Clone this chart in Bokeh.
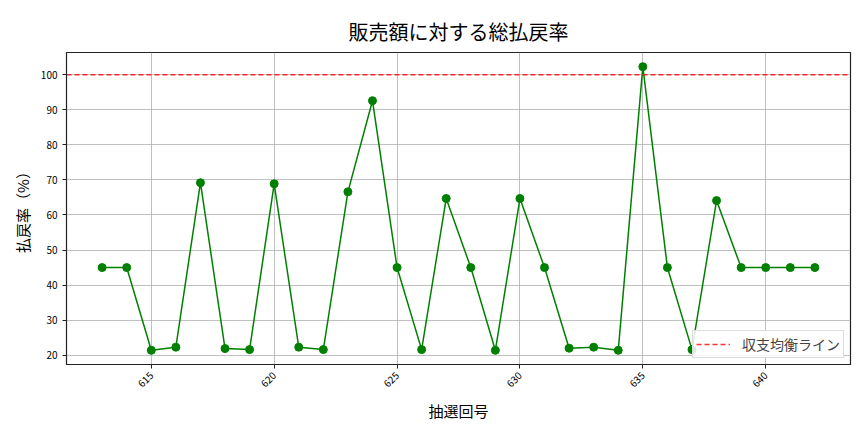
import math
from bokeh.plotting import figure
from bokeh.models import Range1d, FixedTicker, Legend, LegendItem
from bokeh.embed import file_html
from bokeh.resources import INLINE

# data
rounds = list(range(613, 643))
payout_rate = [45.0, 45.0, 21.4, 22.3, 69.2, 21.9, 21.6, 68.9, 22.3, 21.6,
               66.6, 92.6, 45.0, 21.6, 64.7, 45.0, 21.4, 64.7, 45.0, 22.0,
               22.3, 21.4, 102.3, 45.0, 21.6, 64.1, 45.0, 45.0, 45.0, 45.0]
breakeven = 100
x_ticks = [615, 620, 625, 630, 635, 640]
y_ticks = [20, 30, 40, 50, 60, 70, 80, 90, 100]

FONT = "Noto Sans CJK JP"

xmin, xmax = min(rounds), max(rounds)
xpad = (xmax - xmin) * 0.05
ymin, ymax = min(payout_rate), max(payout_rate)
ypad = (ymax - ymin) * 0.05
x_lo, x_hi = xmin - xpad, xmax + xpad

p = figure(width=856, height=424, output_backend="svg", toolbar_location=None,
           x_range=Range1d(x_lo, x_hi),
           y_range=Range1d(ymin - ypad, ymax + ypad),
           min_border_left=66, min_border_right=6, min_border_top=52, min_border_bottom=60)

p.title.text = "販売額に対する総払戻率"
p.title.text_font = FONT
p.title.text_font_size = "20px"
p.title.text_font_style = "normal"
p.title.align = "center"
p.title.vertical_align = "top"
p.title.text_color = "#000000"
p.title.standoff = 10

p.outline_line_color = "#222222"
p.outline_line_width = 1.2

p.xaxis.ticker = FixedTicker(ticks=x_ticks)
p.yaxis.ticker = FixedTicker(ticks=y_ticks)
p.xaxis.major_label_orientation = math.pi / 4
for ax in (p.xaxis, p.yaxis):
    ax.major_label_text_font = FONT
    ax.major_label_text_font_size = "10px"
    ax.major_label_text_color = "#000000"
    ax.axis_label_text_font = FONT
    ax.axis_label_text_font_size = "15px"
    ax.axis_label_text_font_style = "normal"
    ax.axis_label_text_color = "#000000"
    ax.axis_line_color = "#222222"
    ax.major_tick_line_color = "#222222"
    ax.major_tick_out = 4
    ax.major_tick_in = 0
    ax.minor_tick_line_color = None
p.xaxis.axis_label = "抽選回号"
p.xaxis.axis_label_standoff = 6
p.yaxis.axis_label = "払戻率（%）"

p.xgrid.grid_line_color = "#b0b0b0"
p.ygrid.grid_line_color = "#b0b0b0"
p.xgrid.grid_line_width = 0.8
p.ygrid.grid_line_width = 0.8

p.line(rounds, payout_rate, line_color="green", line_width=1.5)
p.scatter(rounds, payout_rate, size=8, fill_color="green", line_color="green")

breakeven_r = p.line(x=[x_lo, x_hi], y=[breakeven, breakeven], line_color="red",
                     line_alpha=0.8, line_dash="5 3", line_width=1.5)

legend = Legend(items=[LegendItem(label="収支均衡ライン", renderers=[breakeven_r])],
                location="bottom_right")
legend.label_text_font = FONT
legend.label_text_font_size = "14px"
legend.border_line_color = "#dddddd"
legend.border_line_alpha = 1.0
legend.background_fill_alpha = 0.85
legend.padding = 3
legend.margin = 6
legend.glyph_width = 34
legend.label_standoff = 12
legend.spacing = 0
p.add_layout(legend)

open("out.html", "w").write(file_html(p, INLINE))
